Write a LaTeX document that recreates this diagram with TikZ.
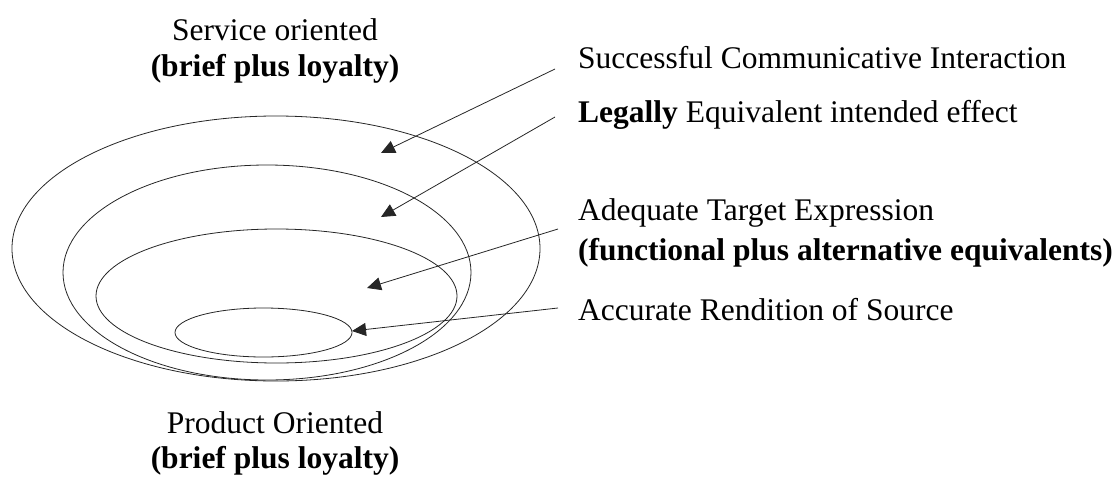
\documentclass[tikz,border=0pt]{standalone}
\usepackage{fontspec}
\setmainfont{Liberation Serif}
\usetikzlibrary{arrows.meta}
\begin{document}
\begin{tikzpicture}[x=1pt,y=-1pt,
  ring/.style={draw=black!85,line width=0.8pt},
  pointer/.style={draw=black!85,line width=0.8pt,-{Triangle[length=14pt,width=13pt]}},
  lbl/.style={inner sep=0pt,anchor=base west,font=\fontsize{31.5}{36}\selectfont},
  ctr/.style={inner sep=0pt,anchor=base,font=\fontsize{31.5}{36}\selectfont}]
\useasboundingbox (0,0) rectangle (1120,477);
% nested levels
\draw[ring] (276,248.5) ellipse [x radius=264, y radius=132.5];
\draw[ring] (267,272.5) ellipse [x radius=204, y radius=107.5];
\draw[ring] (276.5,296) ellipse [x radius=180.5, y radius=67];
\draw[ring] (263.5,332.5) ellipse [x radius=88.5, y radius=24.5];
% headings above and below
\node[ctr] (svc) at (275,40) {Service oriented};
\node[ctr] (svcb) at (275,76) {\textbf{(brief plus loyalty)}};
\node[ctr] (prd) at (275,433) {Product Oriented};
\node[ctr] (prdb) at (275,468) {\textbf{(brief plus loyalty)}};
% level labels
\node[lbl] (l1) at (578,68) {Successful Communicative Interaction};
\node[lbl] (l2) at (578,122) {\textbf{Legally} Equivalent intended effect};
\node[lbl] (l3) at (578,220) {Adequate Target Expression};
\node[lbl] (l3b) at (578,260) {\textbf{(functional plus alternative equivalents)}};
\node[lbl] (l4) at (578,320) {Accurate Rendition of Source};
% pointer ends
\coordinate (s1) at (555,69);
\coordinate (s2) at (555,117);
\coordinate (s3) at (558,229);
\coordinate (s4) at (558,308);
\coordinate (p1) at (381,153);
\coordinate (p2) at (381,217);
\coordinate (p3) at (367,288);
\coordinate (p4) at (352,331);
\draw[pointer] (s1) -- (p1);
\draw[pointer] (s2) -- (p2);
\draw[pointer] (s3) -- (p3);
\draw[pointer] (s4) -- (p4);
\end{tikzpicture}
\end{document}
